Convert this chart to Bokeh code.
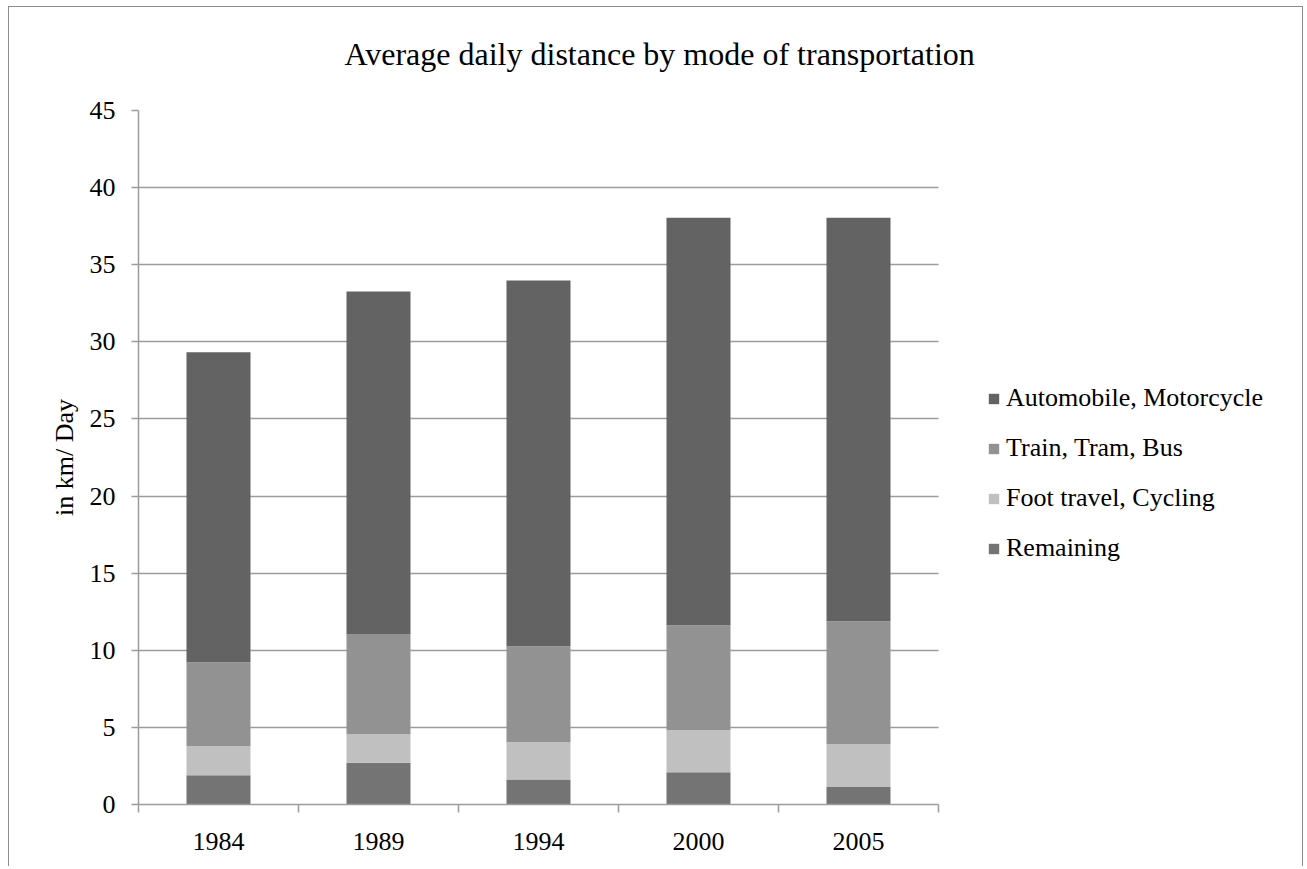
from bokeh.plotting import figure
from bokeh.models import (Range1d, FixedTicker, Legend, LegendItem,
                          ColumnDataSource, Title)
from bokeh.embed import file_html
from bokeh.resources import INLINE

years = ["1984", "1989", "1994", "2000", "2005"]
remaining = [1.90, 2.70, 1.62, 2.09, 1.14]
foot_cycling = [1.88, 1.86, 2.42, 2.73, 2.77]
train_tram_bus = [5.44, 6.50, 6.22, 6.80, 7.97]
auto_moto = [20.11, 22.21, 23.72, 26.42, 26.16]
y_ticks = [0, 5, 10, 15, 20, 25, 30, 35, 40, 45]

series = ["remaining", "foot", "train", "auto"]
labels = {"auto": "Automobile, Motorcycle", "train": "Train, Tram, Bus",
          "foot": "Foot travel, Cycling", "remaining": "Remaining"}
colors = {"auto": "#636363", "train": "#929292", "foot": "#c0c0c0",
          "remaining": "#747474"}

FONT = "Liberation Serif"
GRID = "#9c9c9c"

n = len(years)
xs = [i + 0.5 for i in range(n)]
src = ColumnDataSource(dict(x=xs, remaining=remaining, foot=foot_cycling,
                            train=train_tram_bus, auto=auto_moto))

W, H = 1295, 860
LEFT, TOP, FRAME_H = 129, 103, 694
CAT_PX = 160                      # pixel width of one category slot
frame_w = W - LEFT
x_end = frame_w / CAT_PX          # frame extends right so the legend fits inside it

p = figure(width=W, height=H, output_backend="svg", toolbar_location=None,
           x_range=Range1d(0, x_end), y_range=Range1d(0, 45),
           min_border_left=LEFT, min_border_right=0,
           min_border_top=TOP, min_border_bottom=H - TOP - FRAME_H)
p.title.visible = False
p.styles = {"margin-left": "8px", "margin-top": "6px",
            "border-top": "1px solid #8c8c8c", "border-left": "1px solid #8c8c8c",
            "border-right": "1px solid #8c8c8c"}
p.outline_line_color = None
p.background_fill_color = "white"
p.border_fill_color = "white"

rs = p.vbar_stack(series, x="x", width=0.4, source=src,
                  color=[colors[s] for s in series], line_color=None)

# grid
p.xgrid.visible = False
p.ygrid.grid_line_color = GRID
p.ygrid.grid_line_width = 1.5
try:
    p.ygrid.cross_bounds = (0, n)
except Exception:
    p.ygrid.visible = False
    p.segment(x0=[0] * len(y_ticks), x1=[n] * len(y_ticks), y0=y_ticks, y1=y_ticks,
              line_color=GRID, line_width=1.5, level="underlay")

# axes
p.yaxis.ticker = FixedTicker(ticks=y_ticks)
p.xaxis.ticker = FixedTicker(ticks=xs, minor_ticks=list(range(n + 1)))
p.xaxis.major_label_overrides = {x: y for x, y in zip(xs, years)}
p.xaxis.bounds = (0, n)

for ax in (p.xaxis[0], p.yaxis[0]):
    ax.axis_line_color = GRID
    ax.axis_line_width = 1.5
    ax.major_label_text_font = FONT
    ax.major_label_text_font_size = "26px"
    ax.major_label_text_color = "black"
    ax.major_tick_in = 0

p.xaxis.major_tick_line_color = None
p.xaxis.major_tick_out = 0
p.xaxis.minor_tick_line_color = GRID
p.xaxis.minor_tick_line_width = 1.5
p.xaxis.minor_tick_out = 8
p.xaxis.minor_tick_in = 0
p.xaxis.major_label_standoff = 20

p.yaxis.major_tick_line_color = GRID
p.yaxis.major_tick_line_width = 1.5
p.yaxis.major_tick_out = 7
p.yaxis.minor_tick_line_color = None
p.yaxis.major_label_standoff = 16
p.yaxis.axis_label = "in km/ Day"
p.yaxis.axis_label_text_font = FONT
p.yaxis.axis_label_text_font_size = "26px"
p.yaxis.axis_label_text_font_style = "normal"
p.yaxis.axis_label_text_color = "black"
p.yaxis.axis_label_standoff = 8

# title (a blank spacer title sits between frame and the real title)
spacer = Title(text=" ", text_font=FONT, text_font_size="26px", standoff=8)
p.add_layout(spacer, "above")
title = Title(text="Average daily distance by mode of transportation",
              align="left", offset=206, vertical_align="bottom", standoff=0,
              text_font=FONT, text_font_size="32px", text_font_style="normal",
              text_color="black")
p.add_layout(title, "above")

# legend
order = ["auto", "train", "foot", "remaining"]
items = [LegendItem(label=labels[s], renderers=[rs[series.index(s)]]) for s in order]
legend = Legend(items=items, location=(849, 241), glyph_width=13, glyph_height=13,
                label_standoff=6, spacing=20, padding=0, margin=0,
                border_line_color=None, background_fill_alpha=0,
                label_text_font=FONT, label_text_font_size="26px",
                label_text_color="black")
p.add_layout(legend, "center")

open("out.html", "w").write(file_html(p, INLINE))
